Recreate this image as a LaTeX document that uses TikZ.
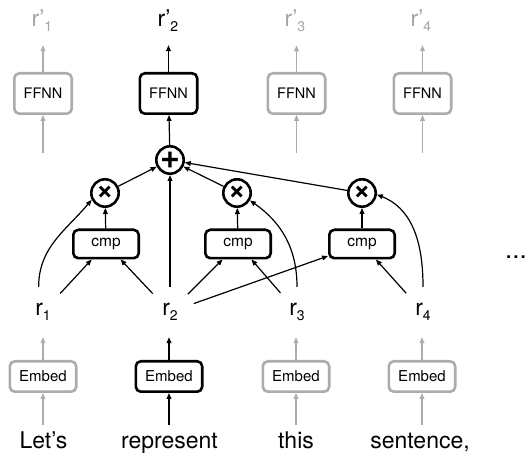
\documentclass[tikz,border=0pt]{standalone}
\usepackage{fontspec}
\setmainfont{TeX Gyre Heros}
\usetikzlibrary{arrows.meta,calc}
\definecolor{lg}{RGB}{172,172,172}
\definecolor{lgt}{RGB}{160,166,160}
\newcommand{\rsub}[1]{\raisebox{-5pt}{\fontsize{14}{14}\selectfont #1}}
\begin{document}
\begin{tikzpicture}[x=1pt,y=1pt,
  tip/.style={-{Triangle[length=6pt,width=4.8pt]}},
  conn/.style={line width=1.2pt, tip},
  gconn/.style={conn, draw=lg},
  box/.style={draw, line width=2.6pt, rounded corners=5pt, inner sep=0pt, fill=white},
  ffnn/.style={box, minimum width=57.4pt, minimum height=40.4pt, font=\fontsize{14.5}{14.5}\selectfont},
  gffnn/.style={ffnn, draw=lg},
  cmpbox/.style={box, minimum width=65.4pt, minimum height=28.4pt, font=\fontsize{15.5}{15.5}\selectfont},
  embed/.style={box, minimum width=66.4pt, minimum height=30.4pt, font=\fontsize{15}{15}\selectfont},
  gembed/.style={embed, draw=lg},
  op/.style={circle, draw, line width=2.6pt, minimum size=27.4pt, inner sep=0pt, fill=white},
  rlab/.style={circle, minimum size=50pt, inner sep=0pt, font=\fontsize{23}{23}\selectfont},
  rplab/.style={anchor=base, inner xsep=0pt, inner ysep=13pt, font=\fontsize{23}{23}\selectfont},
  word/.style={anchor=base, inner sep=0pt, text height=16pt, text depth=5pt, font=\fontsize{23}{23}\selectfont},
  wconn/.style={conn, shorten <=8pt},
]
\useasboundingbox (0,0) rectangle (527,454);

% outputs
\node[rplab, text=lgt] (rp1) at (42,427) {r’\rsub{1}};
\node[rplab] (rp2) at (168,427) {r’\rsub{2}};
\node[rplab, text=lgt] (rp3) at (295,427) {r’\rsub{3}};
\node[rplab, text=lgt] (rp4) at (421,427) {r’\rsub{4}};

% FFNN
\node[gffnn] (f1) at (43,360.5) {FFNN};
\node[ffnn] (f2) at (168.5,360.5) {FFNN};
\node[gffnn] (f3) at (296.5,360.5) {FFNN};
\node[gffnn] (f4) at (422.5,360.5) {FFNN};
\coordinate (b1) at (43,301);
\coordinate (b3) at (296.5,301);
\coordinate (b4) at (422.5,301);

% operators
\node[op, font=\fontsize{34}{34}\selectfont\bfseries] (plus) at (170,294) {+};
\node[op, font=\fontsize{30}{30}\selectfont\bfseries] (x1) at (105,261) {×};
\node[op, font=\fontsize{30}{30}\selectfont\bfseries] (x2) at (237,261) {×};
\node[op, font=\fontsize{30}{30}\selectfont\bfseries] (x3) at (362,261) {×};

% cmp
\node[cmpbox] (c1) at (106,210) {cmp};
\node[cmpbox] (c2) at (238,210) {cmp};
\node[cmpbox] (c3) at (362,210) {cmp};

% r labels
\node[rlab] (r1) at (43,142) {r\rsub{1}};
\node[rlab] (r2) at (170,142) {r\rsub{2}};
\node[rlab] (r3) at (297,142) {r\rsub{3}};
\node[rlab] (r4) at (423,142) {r\rsub{4}};

% embed
\node[gembed] (e1) at (43,77.5) {Embed};
\node[embed] (e2) at (169,77.5) {Embed};
\node[gembed] (e3) at (296,77.5) {Embed};
\node[gembed] (e4) at (422,77.5) {Embed};

% words
\node[word] (w1) at (43.5,5) {Let’s};
\node[word] (w2) at (169.5,5) {represent};
\node[word] (w3) at (296,5) {this};
\node[word] (w4) at (420,5) {sentence,};

\node[anchor=base west, inner sep=0pt, font=\fontsize{26}{26}\selectfont] (dots) at (505,195.5) {...};

% word -> embed
\draw[wconn, draw=lg] (e1 |- w1.north) -- (e1);
\draw[wconn] (e2 |- w2.north) -- (e2);
\draw[wconn, draw=lg] (e3 |- w3.north) -- (e3);
\draw[wconn, draw=lg] (e4 |- w4.north) -- (e4);
% embed -> r
\draw[gconn] (e1) -- (e1 |- r1.south);
\draw[conn] (e2) -- (e2 |- r2.south);
\draw[gconn] (e3) -- (e3 |- r3.south);
\draw[gconn] (e4) -- (e4 |- r4.south);

% r -> cmp
\draw[conn] (r1) -- (c1);
\draw[conn] (r2) -- (c1);
\draw[conn] (r2) -- (c2);
\draw[conn] (r2) -- (c3);
\draw[conn] (r3) -- (c2);
\draw[conn] (r4) -- (c3);
% r -> x (curves)
\draw[conn] (r1.100) to[out=90,in=230] (x1.207);
\draw[conn] (r3.90) to[out=90,in=-35] (x2.-30);
\draw[conn] (r4.90) to[out=90,in=-22] (x3.-6);
% r2 -> plus
\draw[conn] (r2) -- (plus);
% cmp -> x
\draw[conn] (c1) -- (x1);
\draw[conn] (c2) -- (x2);
\draw[conn] (c3) -- (x3);
% x -> plus
\draw[conn] (x1) -- (plus);
\draw[conn] (x2) -- (plus);
\draw[conn] (x3) -- (plus);
% plus -> ffnn
\draw[conn] (plus) -- (f2);
\draw[gconn] (b1) -- (f1);
\draw[gconn] (b3) -- (f3);
\draw[gconn] (b4) -- (f4);
% ffnn -> outputs
\draw[gconn] (f1) -- (f1 |- rp1.south);
\draw[conn] (f2) -- (f2 |- rp2.south);
\draw[gconn] (f3) -- (f3 |- rp3.south);
\draw[gconn] (f4) -- (f4 |- rp4.south);
\end{tikzpicture}
\end{document}
